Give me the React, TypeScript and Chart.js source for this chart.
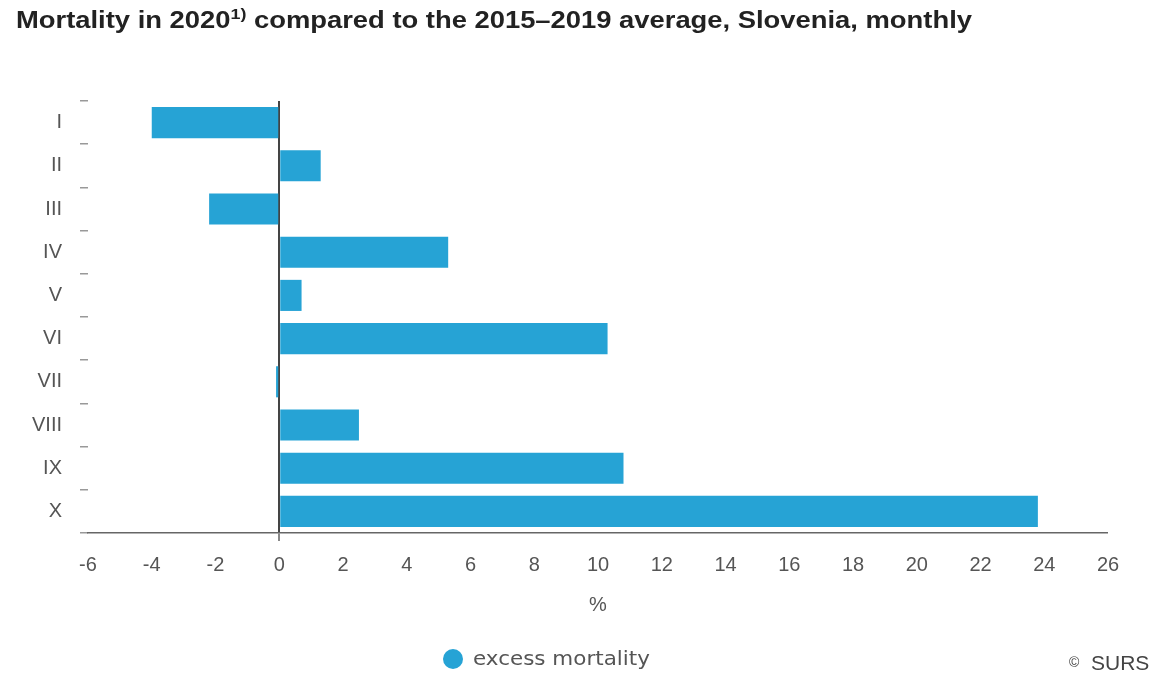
import React, { useEffect, useRef } from "react";
import { Chart, registerables } from "chart.js";

Chart.register(...registerables);

const months = ["I", "II", "III", "IV", "V", "VI", "VII", "VIII", "IX", "X"];
const excessMortality = [-4.0, 1.3, -2.2, 5.3, 0.7, 10.3, -0.1, 2.5, 10.8, 23.8];
const seriesLabel = "excess mortality";
const xMin = -6;
const xMax = 26;
const xStep = 2;

const BAR_COLOR = "#26a3d5";
const SANS = "'Liberation Sans', Arial, sans-serif";

export default function App() {
  const ref = useRef<HTMLCanvasElement | null>(null);

  useEffect(() => {
    document.body.style.margin = "0";
    const canvas = ref.current;
    if (!canvas) return;
    const chart = new Chart(canvas, {
      type: "bar",
      data: {
        labels: months,
        datasets: [
          {
            label: seriesLabel,
            data: excessMortality,
            backgroundColor: BAR_COLOR,
            borderWidth: 0,
            barPercentage: 0.72,
            categoryPercentage: 1,
          },
        ],
      },
      options: {
        indexAxis: "y",
        animation: false,
        responsive: false,
        maintainAspectRatio: false,
        layout: { padding: { top: 101, right: 62, bottom: 72, left: 0 } },
        plugins: {
          legend: { display: false },
          tooltip: { enabled: false },
          title: { display: false },
        },
        scales: {
          x: {
            type: "linear",
            min: xMin,
            max: xMax,
            ticks: {
              stepSize: xStep,
              color: "#555",
              padding: 12,
              font: { family: SANS, size: 20 },
            },
            grid: {
              drawOnChartArea: true,
              drawTicks: true,
              tickLength: 8,
              tickColor: "#888",
              lineWidth: (c: any) => (c.tick && c.tick.value === 0 ? 2 : 0),
              color: (c: any) => (c.tick && c.tick.value === 0 ? "#444" : "rgba(0,0,0,0)"),
            },
            border: { display: true, color: "#666", width: 1.5 },
            title: {
              display: true,
              text: "%",
              color: "#555",
              padding: { top: 2, bottom: 0 },
              font: { family: SANS, size: 20 },
            },
            afterFit: (s: any) => {
              s.height = 84;
            },
          },
          y: {
            type: "category",
            ticks: {
              color: "#555",
              padding: 18,
              font: { family: SANS, size: 20 },
            },
            grid: {
              drawOnChartArea: false,
              drawTicks: true,
              offset: true,
              tickLength: 8,
              tickColor: "#999",
              lineWidth: 1.5,
            },
            border: { display: false },
            afterFit: (s: any) => {
              s.width = 88;
            },
          },
        },
      },
    });
    return () => chart.destroy();
  }, []);

  return (
    <div style={{ position: "relative", width: 1170, height: 689, background: "#fff", overflow: "hidden" }}>
      <canvas ref={ref} width={1170} height={689} style={{ position: "absolute", left: 0, top: 0 }} />
      <div
        style={{
          position: "absolute",
          left: 16,
          top: 9,
          fontFamily: SANS,
          fontWeight: "bold",
          fontSize: 23,
          lineHeight: 1,
          color: "#222",
          whiteSpace: "nowrap",
          transform: "scaleX(1.19)",
          transformOrigin: "0 0",
        }}
      >
        Mortality in 2020<sup style={{ fontSize: 15, verticalAlign: "9px", lineHeight: 0 }}>1)</sup> compared to the
        2015–2019 average, Slovenia, monthly
      </div>
      <span
        style={{
          position: "absolute",
          left: 443,
          top: 649,
          width: 20,
          height: 20,
          borderRadius: "50%",
          background: BAR_COLOR,
        }}
      />
      <div
        style={{
          position: "absolute",
          left: 473,
          top: 649,
          fontFamily: "'DejaVu Sans', Verdana, sans-serif",
          fontSize: 19,
          lineHeight: 1,
          color: "#555",
          whiteSpace: "nowrap",
          transform: "scaleX(1.13)",
          transformOrigin: "0 0",
        }}
      >
        {seriesLabel}
      </div>
      <div
        style={{
          position: "absolute",
          left: 1069,
          top: 655,
          fontFamily: SANS,
          fontSize: 14,
          lineHeight: 1,
          color: "#444",
        }}
      >
        ©
      </div>
      <div
        style={{
          position: "absolute",
          left: 1091,
          top: 652,
          fontFamily: SANS,
          fontSize: 21,
          lineHeight: 1,
          color: "#444",
          whiteSpace: "nowrap",
        }}
      >
        SURS
      </div>
    </div>
  );
}
